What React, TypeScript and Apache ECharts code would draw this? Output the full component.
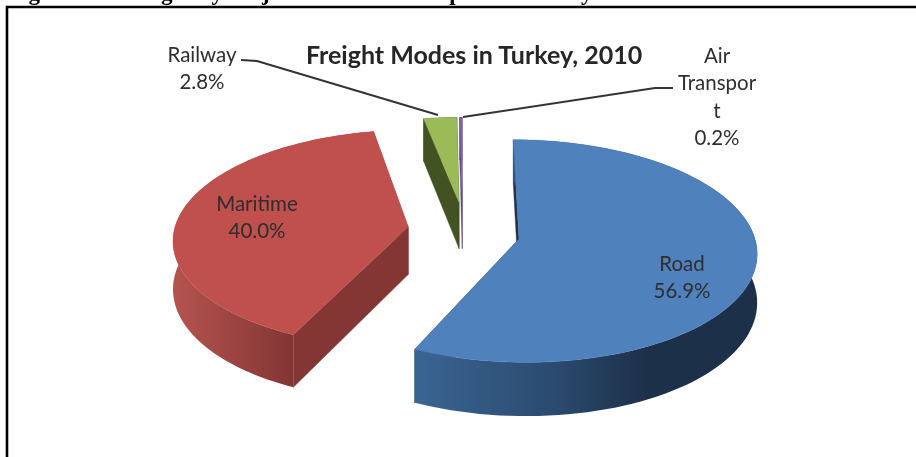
import React, { useEffect, useRef } from "react";
import * as echarts from "echarts";

const categories = ["Road", "Maritime", "Railway", "Air Transport"];
const shares = [56.9, 40.0, 2.8, 0.2];
const labelLines = [["Road", "56.9%"], ["Maritime", "40.0%"], ["Railway", "2.8%"], ["Air", "Transpor", "t", "0.2%"]];
const chartTitle = "Freight Modes in Turkey, 2010";
const caption = "Figure 3.2: Freight by Major Modes of Transport in Turkey for 2010";

// Perspective model for the tilted pie (ground plane -> screen).
const VIEW = { x0: 460, y0: 239, a: 236, b: 110, k: 0.108, depth: 48 };
// Exploded offset and radius of each slice on the ground plane.
const OFFSETS = [[0.25, 0], [-0.222, -0.11], [-0.004, -0.345], [0.01, -0.345]];
const RADII = [1, 1, 0.91, 0.91];
const TOP_COLORS = ["#4f81bd", "#c0504d", "#9bbb59", "#8064a2"];
const SIDE_COLORS = ["#1d3049", "#843635", "#435222", "#5f4a80"];
const rimGradient = (stops: [number, string][]) => ({
  type: "linear", x: 0, y: 0, x2: 1, y2: 0,
  colorStops: stops.map(([offset, color]) => ({ offset, color })),
});
const WALL_FILLS: any[] = [
  rimGradient([[0, "#3a6592"], [0.4, "#2b4b70"], [0.68, "#1d3049"], [1, "#1d3049"]]),
  rimGradient([[0, "#b5544f"], [0.58, "#843635"], [1, "#843635"]]),
  "#435222",
  "#5f4a80",
];

const project = (x: number, y: number, drop = 0) => {
  const s = 1 / (1 - VIEW.k * y);
  const sy = VIEW.y0 + VIEW.b * y * s;
  return [VIEW.x0 + VIEW.a * x * s, sy + drop * s];
};

const total = shares.reduce((p, c) => p + c, 0);

function renderSlice(params: any, api: any) {
  const i = params.dataIndex;
  const value = api.value(0);
  const before = shares.slice(0, i).reduce((p, c) => p + c, 0);
  const start = (before / total) * Math.PI * 2;
  const end = ((before + value) / total) * Math.PI * 2;
  const [ox, oy] = OFFSETS[i];
  const r = RADII[i];
  const d = VIEW.depth;
  const steps = 96;
  const rim = (drop: number) => {
    const pts: number[][] = [];
    for (let n = 0; n <= steps; n++) {
      const t = start + ((end - start) * n) / steps;
      pts.push(project(ox + r * Math.sin(t), oy - r * Math.cos(t), drop));
    }
    return pts;
  };
  const top = rim(0);
  const bottom = rim(d);
  const apexTop = project(ox, oy, 0);
  const apexBottom = project(ox, oy, d);
  const side = SIDE_COLORS[i];
  const poly = (points: number[][], fill: any) => ({
    type: "polygon",
    shape: { points },
    style: { fill, stroke: typeof fill === "string" ? fill : undefined, lineWidth: typeof fill === "string" ? 0.4 : 0 },
  });
  return {
    type: "group",
    children: [
      poly([apexTop, top[0], bottom[0], apexBottom], side),
      poly([apexTop, top[steps], bottom[steps], apexBottom], side),
      poly([...top, ...bottom.slice().reverse()], WALL_FILLS[i]),
      poly([apexTop, ...top], TOP_COLORS[i]),
    ],
  };
}

const LABEL_STYLE = { fontFamily: "Lato, 'Open Sans', sans-serif", fontSize: 20.5, fill: "#2e2e2e", align: "center", verticalAlign: "middle" };
const LABEL_ANCHORS = [[682, 263], [257, 203], [202, 54], [717, 55]];
const LABEL_STEP = 27.3;

export default function App() {
  const ref = useRef<HTMLDivElement>(null);
  useEffect(() => {
    const chart = echarts.init(ref.current!, null, { renderer: "svg" });
    const labels = labelLines.flatMap((lines, i) =>
      lines.map((text, j) => ({
        type: "text",
        x: LABEL_ANCHORS[i][0],
        y: LABEL_ANCHORS[i][1] + j * LABEL_STEP,
        style: { ...LABEL_STYLE, text },
        z: 20,
      }))
    );
    chart.setOption({
      animation: false,
      backgroundColor: "#ffffff",
      title: {
        text: chartTitle,
        left: 469,
        top: 36,
        textAlign: "center",
        textStyle: { fontFamily: "Lato, sans-serif", fontWeight: "bold", fontSize: 25, color: "#262626" },
      },
      series: [
        {
          type: "custom",
          coordinateSystem: "none",
          renderItem: renderSlice,
          data: shares.map((v, i) => ({ name: categories[i], value: [v] })),
          silent: true,
        },
      ],
      graphic: [
        { type: "text", x: 8, y: 4, z: 20, style: { text: caption, fontFamily: "'Liberation Serif', serif", fontWeight: "bold", fontSize: 23, fill: "#000", align: "left", verticalAlign: "bottom" } },
        { type: "polyline", z: 15, shape: { points: [[7, 457], [7, 7], [916, 7]] }, style: { fill: "none", stroke: "#000", lineWidth: 2.6 } },
        { type: "polyline", z: 15, shape: { points: [[241, 60], [257, 61], [438, 115]] }, style: { fill: "none", stroke: "#333", lineWidth: 2 } },
        { type: "polyline", z: 15, shape: { points: [[463, 117], [655, 88], [673, 88]] }, style: { fill: "none", stroke: "#333", lineWidth: 2 } },
        ...labels,
      ],
    });
    return () => chart.dispose();
  }, []);
  return <div ref={ref} style={{ position: "absolute", left: 0, top: 0, width: 916, height: 457, filter: "blur(0.7px)" }} />;
}
